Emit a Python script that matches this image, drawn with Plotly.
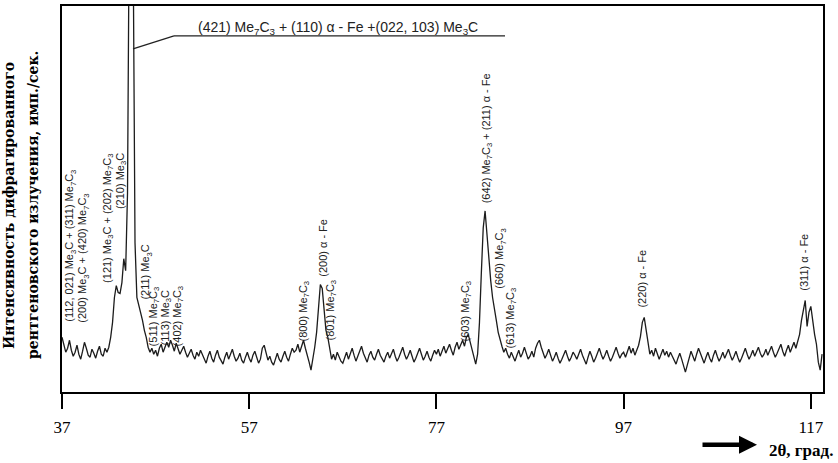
import numpy as np
import plotly.graph_objects as go

# 2θ grid: 37.0 .. 118.2 step 0.2 deg
two_theta_start = 37.0
two_theta_step = 0.2

# intensity (arbitrary units, counts above axis)
intensity = [
    # 37.0 - 41.8
    55, 48, 40, 44, 52, 42, 36, 40, 47, 38, 33, 41, 50, 44, 37, 35, 43, 39, 34, 41, 46, 38, 36, 44, 40,
    # 42.0 - 46.8
    45, 55, 70, 95, 107, 100, 99, 110, 134, 122, 200, 450, 800, 450, 150, 95, 88, 80, 72, 62, 55, 45, 40, 44, 38,
    # 47.0 - 51.8
    42, 36, 44, 48, 40, 46, 50, 45, 52, 47, 41, 49, 44, 38, 42, 46, 40, 35, 39, 43, 37, 33, 40, 36, 42,
    # 52.0 - 56.8
    38, 33, 29, 36, 41, 34, 30, 37, 42, 35, 31, 28, 35, 40, 33, 38, 43, 36, 31, 34, 39, 32, 29, 35, 40,
    # 57.0 - 61.8
    34, 30, 37, 41, 35, 29, 33, 44, 47, 38, 32, 36, 30, 27, 34, 39, 33, 30, 36, 41, 35, 31, 38, 44, 40,
    # 62.0 - 66.8
    42, 48, 40, 46, 52, 44, 38, 30, 22, 32, 45, 60, 85, 108, 104, 80, 62, 55, 42, 33, 38, 32, 40, 36, 31,
    # 67.0 - 71.8
    29, 35, 40, 33, 38, 44, 37, 31, 36, 42, 46, 39, 34, 30, 37, 41, 35, 32, 38, 43, 37, 33, 30, 36, 40,
    # 72.0 - 76.8
    34, 39, 43, 36, 31, 35, 40, 45, 38, 33, 37, 42, 36, 30, 34, 39, 44, 38, 32, 36, 41, 35, 31, 37, 42,
    # 77.0 - 81.8
    38, 43, 36, 41, 46, 39, 44, 48, 42, 37, 45, 50, 43, 47, 52, 46, 55, 58, 50, 42, 35, 28, 38, 70, 120,
    # 82.0 - 86.8
    165, 182, 160, 130, 112, 95, 85, 72, 60, 52, 46, 40, 44, 38, 34, 40, 36, 31, 37, 42, 35, 39, 45, 38, 33,
    # 87.0 - 91.8
    36, 41, 35, 44, 49, 52, 45, 39, 34, 38, 43, 37, 31, 35, 40, 34, 29, 33, 38, 42, 36, 31, 35, 40, 37,
    # 92.0 - 96.8
    33, 38, 43, 37, 32, 28, 35, 41, 36, 30, 34, 39, 44, 38, 33, 37, 42, 36, 31, 35, 40, 45, 39, 34, 38,
    # 97.0 - 101.8
    40, 35, 41, 46, 39, 44, 37, 42, 47, 56, 70, 75, 62, 48, 38, 42, 36, 44, 39, 33, 38, 43, 37, 41, 35,
    # 102.0 - 106.8
    40, 36, 31, 28, 34, 39, 33, 25, 20, 27, 35, 41, 36, 31, 38, 44, 39, 33, 29, 35, 40, 34, 30, 37, 42,
    # 107.0 - 111.8
    36, 31, 35, 40, 34, 38, 43, 37, 32, 36, 41, 35, 30, 34, 39, 44, 38, 33, 37, 42, 36, 40, 45, 39, 35,
    # 112.0 - 116.8
    38, 43, 37, 41, 46, 40, 35, 39, 44, 48, 41, 36, 42, 47, 40, 45, 50, 44, 52, 58, 72, 84, 92, 66, 80,
    # 117.0 - 118.2
    86, 70, 58, 48, 30, 22, 38,
]

two_theta = two_theta_start + two_theta_step * np.arange(len(intensity))

tick_vals = [37, 57, 77, 97, 117]
tick_text = ["37", "57", "77", "97", "117"]

main_label = "(421) Me<sub>7</sub>C<sub>3</sub> + (110) α - Fe +(022, 103) Me<sub>3</sub>C"
peak_labels = [
    # text, x_px, y_px (centre of rotated label)
    ("(112, 021) Me<sub>3</sub>C + (311) Me<sub>7</sub>C<sub>3</sub>", 70, 245),
    ("(200) Me<sub>3</sub>C + (420) Me<sub>7</sub>C<sub>3</sub>", 83, 258),
    ("(121) Me<sub>3</sub>C + (202) Me<sub>7</sub>C<sub>3</sub>", 108, 218),
    ("(210) Me<sub>3</sub>C", 121, 180),
    ("(211) Me<sub>3</sub>C", 146, 272),
    ("(511) Me<sub>7</sub>C<sub>3</sub>", 154, 316),
    ("(113) Me<sub>3</sub>C", 166, 318),
    ("(402) Me<sub>7</sub>C<sub>3</sub>", 178, 316),
    ("(800) Me<sub>7</sub>C<sub>3</sub>", 304, 311),
    ("(200) α - Fe", 323, 247),
    ("(801) Me<sub>7</sub>C<sub>3</sub>", 331, 310),
    ("(603) Me<sub>7</sub>C<sub>3</sub>", 466, 310),
    ("(642) Me<sub>7</sub>C<sub>3</sub> + (211) α - Fe", 487, 137),
    ("(660) Me<sub>7</sub>C<sub>3</sub>", 500, 258),
    ("(613) Me<sub>7</sub>C<sub>3</sub>", 511, 318),
    ("(220) α - Fe", 642, 278),
    ("(311) α - Fe", 804, 262),
]

y_title_1 = "Интенсивность дифрагированного"
y_title_2 = "рентгеновского излучения, имп./сек."
x_title = "2θ, град."

L, R, T, B = 62, 823, 4, 392
W, H = 838, 463


def px(xp):
    return (xp - L) / (R - L)


def py(yp):
    return (B - yp) / (B - T)


fig = go.Figure()
fig.add_trace(go.Scatter(
    x=two_theta, y=intensity, mode="lines",
    line=dict(color="#1c1c1c", width=1.3),
    hoverinfo="skip", showlegend=False,
))

label_font = dict(family="Liberation Sans Narrow, Arial Narrow, Liberation Sans, Arial", size=11, color="#222")
annotations = []
for text, xp, yp in peak_labels:
    annotations.append(dict(
        text=text, x=px(xp), y=py(yp), xref="paper", yref="paper",
        showarrow=False, textangle=-90, xanchor="center", yanchor="middle",
        font=label_font,
    ))

annotations.append(dict(
    text=main_label, x=px(338), y=py(26), xref="paper", yref="paper",
    showarrow=False, xanchor="center", yanchor="middle",
    font=dict(family="Liberation Sans, Arial", size=14, color="#222"),
))

annotations.append(dict(text="<b>" + y_title_1 + "</b>", x=px(9), y=py(205), xref="paper", yref="paper",
                        showarrow=False, textangle=-90, xanchor="center", yanchor="middle",
                        font=dict(family="DejaVu Serif, serif", size=14, color="black")))
annotations.append(dict(text="<b>" + y_title_2 + "</b>", x=px(33), y=py(204), xref="paper", yref="paper",
                        showarrow=False, textangle=-90, xanchor="center", yanchor="middle",
                        font=dict(family="DejaVu Serif, serif", size=14, color="black")))

annotations.append(dict(text="<b>" + x_title + "</b>", x=px(801), y=py(451), xref="paper", yref="paper",
                        showarrow=False, xanchor="center", yanchor="middle",
                        font=dict(family="Liberation Serif, serif", size=17, color="black")))
annotations.append(dict(text="", x=px(757), y=py(445), ax=-56, ay=0, xref="paper", yref="paper",
                        showarrow=True, arrowhead=2, arrowsize=0.8, arrowwidth=4.5, arrowcolor="black"))

shapes = [
    dict(type="line", xref="paper", yref="paper", x0=px(133), y0=py(47), x1=px(174), y1=py(34),
         line=dict(color="#222", width=1.3)),
    dict(type="line", xref="paper", yref="paper", x0=px(174), y0=py(34), x1=px(505), y1=py(34),
         line=dict(color="#222", width=1.3)),
]

fig.update_layout(
    width=W, height=H,
    margin=dict(l=L, r=W - R, t=T, b=H - B),
    paper_bgcolor="white", plot_bgcolor="white",
    annotations=annotations, shapes=shapes,
    xaxis=dict(range=[37, 118.3], tickvals=tick_vals, ticktext=tick_text,
               ticks="outside", ticklen=15, tickwidth=1.5, tickcolor="black",
               showline=True, linecolor="black", linewidth=1.5, mirror=True,
               showgrid=False, zeroline=False, ticklabelstandoff=4,
               tickfont=dict(family="Liberation Serif, Times New Roman, serif", size=17, color="black")),
    yaxis=dict(range=[0, 388], showticklabels=False, ticks="",
               showline=True, linecolor="black", linewidth=1.5, mirror=True,
               showgrid=False, zeroline=False),
)

fig.write_html("out.html", config={"displayModeBar": False},
               post_script="document.body.style.margin='0';")
